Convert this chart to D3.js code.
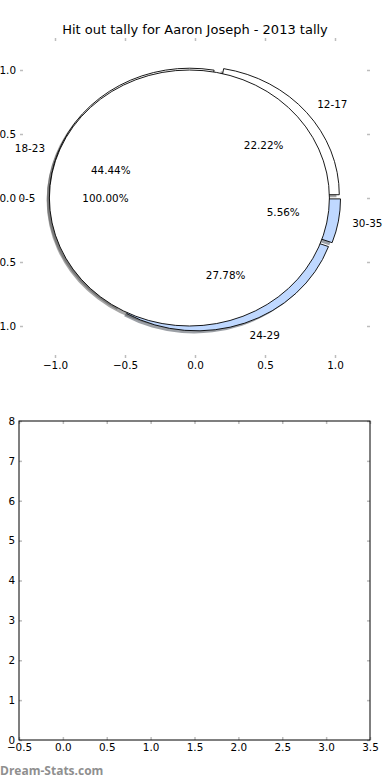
<!DOCTYPE html>
<html>
<head>
<meta charset="utf-8">
<script src="https://cdn.jsdelivr.net/npm/d3@7"></script>
<style>
  body { margin: 0; background: #fff; }
  text { font-family: "DejaVu Sans", sans-serif; }
</style>
</head>
<body>
<div id="chart"></div>
<script>
// data ___________________________________________________________________________
const title = 'Hit out tally for Aaron Joseph - 2013 tally';
const outerLabels = ['12-17', '18-23', '24-29', '30-35'];
const outerValues = [4, 8, 5, 1];
const outerColors = ['#ffffff', '#ffffff', '#bfd8ff', '#bfd8ff'];
const innerLabels = ['0-5'];
const innerValues = [1];
const innerColors = ['#ffffff'];
const pieTicks = [-1.0, -0.5, 0.0, 0.5, 1.0];
const barXTicks = [-0.5, 0.0, 0.5, 1.0, 1.5, 2.0, 2.5, 3.0, 3.5];
const barYTicks = [0, 1, 2, 3, 4, 5, 6, 7, 8];

const width = 390;
const height = 780;
const explode = 0.04;
const tickColor = '#bdbdbd';
const fontSize = '10.4px';

const svg = d3.select('#chart').append('svg')
    .attr('width', width).attr('height', height);

svg.append('text')
    .attr('x', 195).attr('y', 34)
    .attr('text-anchor', 'middle')
    .style('font-size', '13px')
    .text(title);

// pie ____________________________________________________________________________
const p = {left: 20, right: 370, top: 38, bottom: 358};
const px = d3.scaleLinear().domain([-1.25, 1.25]).range([p.left, p.right]);
const py = d3.scaleLinear().domain([-1.25, 1.25]).range([p.bottom, p.top]);
const kx = px(1) - px(0);
const ky = py(0) - py(1);

const pie = d3.pie().sort(null)
    .startAngle(Math.PI / 2)
    .endAngle(Math.PI / 2 - 2 * Math.PI);
const arc = d3.arc().innerRadius(0).outerRadius(1);

function layout(labels, values, colors) {
  return pie(values).map((d, i) => {
    const am = (d.startAngle + d.endAngle) / 2;
    const tm = Math.PI / 2 - am;
    return {
      arc: d,
      label: labels[i],
      color: colors[i],
      pct: (d.value / d3.sum(values) * 100).toFixed(2) + '%',
      tm: tm,
      ox: explode * Math.cos(tm),
      oy: explode * Math.sin(tm)
    };
  });
}

const outer = layout(outerLabels, outerValues, outerColors);
const inner = layout(innerLabels, innerValues, innerColors);
const all = outer.concat(inner);

const shade = c => {
  const r = d3.rgb(c);
  return d3.rgb(r.r * 0.3, r.g * 0.3, r.b * 0.3).toString();
};

const place = (ox, oy) => `translate(${px(ox)},${py(oy)}) scale(${kx},${ky})`;

// shadows under every wedge
svg.append('g').selectAll('path').data(all).enter().append('path')
    .attr('d', d => arc(d.arc))
    .attr('transform', d => place(d.ox - 0.02, d.oy - 0.02))
    .attr('fill', d => shade(d.color))
    .attr('fill-opacity', 0.5);

svg.append('g').selectAll('path').data(all).enter().append('path')
    .attr('d', d => arc(d.arc))
    .attr('transform', d => place(d.ox, d.oy))
    .attr('fill', d => d.color)
    .attr('stroke', '#000')
    .attr('stroke-width', 0.9)
    .attr('vector-effect', 'non-scaling-stroke');

const labels = svg.append('g').style('font-size', fontSize);
all.forEach(d => {
  const lx = d.ox + 1.1 * Math.cos(d.tm);
  const ly = d.oy + 1.1 * Math.sin(d.tm);
  labels.append('text')
      .attr('x', px(lx)).attr('y', py(ly))
      .attr('dy', '0.35em')
      .attr('text-anchor', lx > 0 ? 'start' : 'end')
      .text(d.label);
  labels.append('text')
      .attr('x', px(d.ox + 0.6 * Math.cos(d.tm)))
      .attr('y', py(d.oy + 0.6 * Math.sin(d.tm)))
      .attr('dy', '0.35em')
      .attr('text-anchor', 'middle')
      .text(d.pct);
});

const styleAxis = g => {
  g.select('.domain').remove();
  g.selectAll('.tick line').attr('stroke', tickColor).attr('stroke-width', 1.5);
  g.selectAll('.tick text').attr('fill', '#000').style('font-size', fontSize)
      .style('font-family', '"DejaVu Sans", sans-serif');
};

svg.append('g').attr('transform', `translate(0,${p.bottom})`)
    .call(d3.axisBottom(px).tickValues(pieTicks).tickFormat(d3.format('.1f'))
        .tickSizeInner(-3).tickSizeOuter(0).tickPadding(4))
    .call(styleAxis);
svg.append('g').attr('transform', `translate(0,${p.top})`)
    .call(d3.axisTop(px).tickValues(pieTicks).tickFormat('')
        .tickSizeInner(-3).tickSizeOuter(0))
    .call(styleAxis);
svg.append('g').attr('transform', `translate(${p.left},0)`)
    .call(d3.axisLeft(py).tickValues(pieTicks).tickFormat(d3.format('.1f'))
        .tickSizeInner(-3).tickSizeOuter(0).tickPadding(4))
    .call(styleAxis);
svg.append('g').attr('transform', `translate(${p.right},0)`)
    .call(d3.axisRight(py).tickValues(pieTicks).tickFormat('')
        .tickSizeInner(-3).tickSizeOuter(0))
    .call(styleAxis);

// empty bar axes ___________________________________________________________________
const b = {left: 19, right: 370, top: 421, bottom: 740};
const bx = d3.scaleLinear().domain([-0.5, 3.5]).range([b.left, b.right]);
const by = d3.scaleLinear().domain([0, 8]).range([b.bottom, b.top]);

svg.append('g').attr('transform', `translate(0,${b.bottom})`)
    .call(d3.axisBottom(bx).tickValues(barXTicks).tickFormat(d3.format('.1f'))
        .tickSizeInner(-3).tickSizeOuter(0).tickPadding(4))
    .call(styleAxis);
svg.append('g').attr('transform', `translate(0,${b.top})`)
    .call(d3.axisTop(bx).tickValues(barXTicks).tickFormat('')
        .tickSizeInner(-3).tickSizeOuter(0))
    .call(styleAxis);
svg.append('g').attr('transform', `translate(${b.left},0)`)
    .call(d3.axisLeft(by).tickValues(barYTicks).tickFormat(d3.format('d'))
        .tickSizeInner(-3).tickSizeOuter(0).tickPadding(4))
    .call(styleAxis);
svg.append('g').attr('transform', `translate(${b.right},0)`)
    .call(d3.axisRight(by).tickValues(barYTicks).tickFormat('')
        .tickSizeInner(-3).tickSizeOuter(0))
    .call(styleAxis);

svg.append('rect')
    .attr('x', b.left).attr('y', b.top)
    .attr('width', b.right - b.left).attr('height', b.bottom - b.top)
    .attr('fill', 'none').attr('stroke', '#000').attr('stroke-width', 1);

svg.append('text')
    .attr('x', 0).attr('y', 775)
    .style('font-family', '"Open Sans", sans-serif')
    .style('font-weight', 700)
    .style('font-size', '12px')
    .attr('fill', '#8f8f8f')
    .text('Dream-Stats.com');
</script>
</body>
</html>
